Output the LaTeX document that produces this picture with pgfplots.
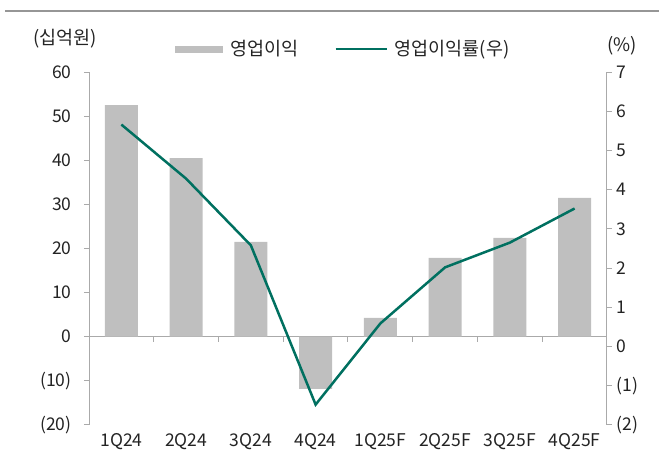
\documentclass[border=0pt]{standalone}
\usepackage{fontspec}
\setmainfont{Noto Sans CJK KR}
\usepackage{pgfplots}
\pgfplotsset{compat=1.18}
\definecolor{barc}{RGB}{191,191,191}
\definecolor{linec}{RGB}{0,112,96}
\definecolor{axc}{RGB}{170,170,170}
\definecolor{txt}{RGB}{35,35,35}
\definecolor{topc}{RGB}{150,150,150}
\newcommand\lf{\fontsize{17.5}{20}\selectfont}
\newcommand\kf{\fontsize{18.5}{21}\selectfont}
\begin{document}
\begin{tikzpicture}[x=1pt,y=1pt]
\useasboundingbox (0,0) rectangle (659,460);
\draw[topc, line width=2pt] (5,449) -- (659,449);
\node[anchor=west, text=txt, font=\kf, inner sep=0pt] at (33,421) {(십억원)};
\node[anchor=center, text=txt, font=\kf, inner sep=0pt] at (622,414) {(\%)};
\begin{axis}[
  at={(89pt,35pt)}, anchor=south west,
  width=518pt, height=353pt, scale only axis,
  xmin=-0.5, xmax=7.5,
  ymin=-20, ymax=60,
  ytick={-20,-10,...,60},
  yticklabels={(20),(10),0,10,20,30,40,50,60},
  axis y line*=left, axis x line*=middle,
  xtick={0.5,1.5,...,6.5}, xticklabels={},
  tick align=outside, major tick length=5pt,
  axis line style={axc, line width=1pt},
  tick style={axc, line width=1pt},
  /pgf/number format/assume math mode=true,
  every tick label/.append style={font=\lf, text=txt},
  yticklabel style={xshift=-9pt},
  ybar, bar width=33pt,
  legend columns=2,
  legend style={at={(0.166,1.065)}, anchor=west, draw=none, fill=none,
    font=\kf, text=txt, inner sep=0pt, nodes={inner sep=0pt},
    /tikz/every odd column/.style={column sep=7pt},
    /tikz/every even column/.style={column sep=36pt}},
]
\addplot[fill=barc, draw=none,
  legend image code/.code={\fill[barc] (0pt,-3.5pt) rectangle (48pt,3.5pt);}]
  coordinates {(0,52.5) (1,40.5) (2,21.5) (3,-11.8) (4,4.3) (5,17.9) (6,22.4) (7,31.5)};
\addlegendentry{영업이익}
\addlegendimage{linec, line width=2.5pt,
  legend image code/.code={\draw[linec, line width=2.5pt] (0pt,0pt) -- (51pt,0pt);}}
\addlegendentry{영업이익률(우)}
\end{axis}
\begin{axis}[
  at={(89pt,35pt)}, anchor=south west,
  width=518pt, height=353pt, scale only axis,
  xmin=-0.5, xmax=7.5,
  ymin=-2, ymax=7,
  ytick={-2,-1,...,7},
  yticklabels={(2),(1),0,1,2,3,4,5,6,7},
  axis y line*=right, axis x line*=bottom,
  x axis line style={draw=none},
  xtick={0,...,7},
  xticklabels={1Q24,2Q24,3Q24,4Q24,1Q25F,2Q25F,3Q25F,4Q25F},
  xtick style={draw=none},
  tick align=outside, major tick length=5pt,
  y axis line style={axc, line width=1pt},
  ytick style={axc, line width=1pt},
  /pgf/number format/assume math mode=true,
  every tick label/.append style={font=\lf, text=txt},
  yticklabel style={xshift=1pt},
]
\addplot[linec, line width=2.5pt, mark=none]
  coordinates {(0,5.66) (1,4.28) (2,2.58) (3,-1.48) (4,0.59) (5,2.02) (6,2.65) (7,3.52)};
\end{axis}
\end{tikzpicture}
\end{document}
